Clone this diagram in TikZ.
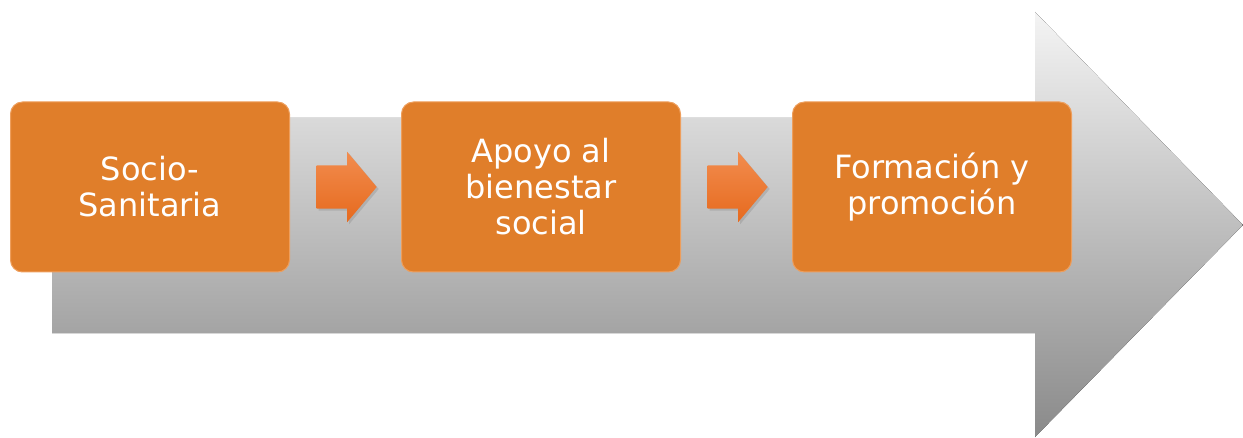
\documentclass[tikz,border=0pt]{standalone}
\usepackage{fontspec}
\setmainfont{DejaVu Sans}
\usepackage{tikz}
\usetikzlibrary{positioning,shapes.arrows,shadows,calc}
\definecolor{stageorange}{RGB}{224,126,42}
\definecolor{stageedge}{RGB}{238,158,92}
\definecolor{arrowtop}{RGB}{242,140,78}
\definecolor{arrowbottom}{RGB}{230,106,30}
\definecolor{bandtop}{RGB}{244,244,244}
\definecolor{bandbottom}{RGB}{138,138,138}

\begin{document}
\begin{tikzpicture}[x=1pt,y=1pt,
  node distance=112pt,
  stage/.style={rectangle,rounded corners=12pt,fill=stageorange,draw=stageedge,line width=1pt,
    minimum width=279pt,minimum height=170pt,inner sep=0pt,outer sep=0pt,align=center,text=white,
    font=\fontsize{32}{36}\selectfont},
  flowarrow/.style={single arrow,top color=arrowtop,bottom color=arrowbottom,draw=none,anchor=tail,
    inner xsep=0pt,inner ysep=21.5pt,minimum height=60pt,single arrow head extend=13.5pt,
    single arrow tip angle=100,drop shadow={opacity=0.3,shadow xshift=2pt,shadow yshift=-2pt}}]
\useasboundingbox (0,0) rectangle (1243,437);
% grey band behind the stages
\fill[top color=bandtop,bottom color=bandbottom] (52,319) -- (1035,319) -- (1035,425) -- (1243,212)
  -- (1035,0) -- (1035,104) -- (52,104) -- cycle;
\node[stage] (socio) at (150,250) {Socio-\\Sanitaria};
\node[stage,right=of socio] (apoyo) {Apoyo al\\bienestar\\social};
\node[stage,right=of apoyo] (formacion) {Formación y\\promoción};
\node[flowarrow] (a1) at ([xshift=27pt]socio.east) {};
\node[flowarrow] (a2) at ([xshift=27pt]apoyo.east) {};
\end{tikzpicture}
\end{document}
